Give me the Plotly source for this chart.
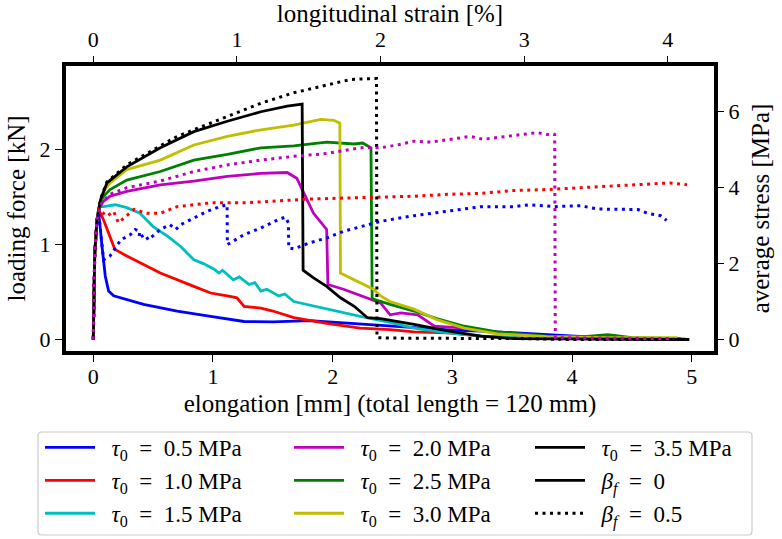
import plotly.graph_objects as go

# ---------------- data (elongation [mm], loading force [kN]) ----------------
x_t05 = [0, 0.012, 0.03, 0.045, 0.073, 0.10, 0.128, 0.17, 0.42, 0.70, 0.98, 1.26, 1.5, 1.675, 1.81, 2.09, 2.4, 2.7, 3.0, 3.3, 3.51, 3.79, 4.1, 4.5, 4.95]
y_t05 = [0, 0.9, 1.25, 1.34, 0.98, 0.67, 0.51, 0.46, 0.37, 0.30, 0.245, 0.19, 0.185, 0.19, 0.20, 0.175, 0.15, 0.12, 0.10, 0.085, 0.07, 0.05, 0.03, 0.015, 0.005]

x_t10 = [0, 0.012, 0.03, 0.045, 0.086, 0.14, 0.18, 0.28, 0.56, 0.84, 0.98, 1.12, 1.2, 1.26, 1.40, 1.5, 1.675, 1.95, 2.23, 2.48, 2.68, 2.96, 3.24, 3.6, 4.0, 4.5, 4.95]
y_t10 = [0, 0.9, 1.25, 1.37, 1.26, 1.09, 0.95, 0.88, 0.70, 0.56, 0.49, 0.46, 0.44, 0.35, 0.33, 0.30, 0.23, 0.17, 0.12, 0.105, 0.08, 0.07, 0.035, 0.015, 0.008, 0.004, 0.0]

x_t15 = [0, 0.012, 0.03, 0.05, 0.086, 0.184, 0.28, 0.39, 0.50, 0.62, 0.73, 0.84, 0.92, 1.01, 1.05, 1.08, 1.17, 1.22, 1.30, 1.35, 1.40, 1.45, 1.55, 1.60, 1.675, 1.95, 2.23, 2.48, 2.68, 2.96, 3.3, 3.6, 4.0, 4.5, 4.95]
y_t15 = [0, 0.9, 1.25, 1.40, 1.40, 1.42, 1.39, 1.33, 1.19, 1.09, 0.98, 0.84, 0.80, 0.74, 0.70, 0.73, 0.63, 0.66, 0.58, 0.60, 0.51, 0.53, 0.46, 0.48, 0.40, 0.32, 0.245, 0.18, 0.12, 0.07, 0.03, 0.015, 0.008, 0.004, 0.0]

x_t20 = [0, 0.012, 0.03, 0.05, 0.08, 0.14, 0.28, 0.56, 0.84, 1.12, 1.40, 1.62, 1.70, 1.76, 1.84, 1.95, 1.96, 2.09, 2.34, 2.40, 2.48, 2.57, 2.71, 2.85, 3.10, 3.4, 3.9, 4.4, 4.9]
y_t20 = [0, 0.9, 1.25, 1.38, 1.45, 1.51, 1.56, 1.63, 1.67, 1.72, 1.75, 1.76, 1.70, 1.54, 1.33, 1.16, 0.58, 0.53, 0.42, 0.386, 0.26, 0.28, 0.26, 0.14, 0.12, 0.07, 0.02, 0.01, 0.0]

x_t25 = [0, 0.012, 0.03, 0.05, 0.08, 0.14, 0.28, 0.56, 0.84, 1.12, 1.40, 1.675, 1.95, 2.18, 2.25, 2.32, 2.33, 2.40, 2.48, 2.68, 2.87, 3.10, 3.375, 3.79, 4.1, 4.30, 4.5, 4.91]
y_t25 = [0, 0.9, 1.25, 1.40, 1.50, 1.58, 1.68, 1.77, 1.89, 1.95, 2.02, 2.04, 2.08, 2.06, 2.07, 2.02, 0.43, 0.40, 0.37, 0.30, 0.22, 0.14, 0.08, 0.035, 0.03, 0.05, 0.02, 0.01]

x_t30 = [0, 0.012, 0.03, 0.05, 0.08, 0.14, 0.28, 0.56, 0.84, 1.12, 1.40, 1.675, 1.90, 2.01, 2.06, 2.065, 2.34, 2.40, 2.48, 2.68, 2.87, 3.10, 3.375, 3.79, 4.3, 4.88]
y_t30 = [0, 0.9, 1.25, 1.42, 1.55, 1.65, 1.79, 1.89, 2.05, 2.14, 2.21, 2.26, 2.32, 2.31, 2.28, 0.70, 0.53, 0.46, 0.40, 0.32, 0.21, 0.12, 0.06, 0.03, 0.02, 0.02]

x_t35 = [0, 0.012, 0.03, 0.05, 0.06, 0.114, 0.28, 0.56, 0.84, 1.12, 1.40, 1.62, 1.745, 1.753, 1.84, 1.95, 2.065, 2.18, 2.29, 2.40, 2.68, 2.96, 3.24, 3.51, 4.0, 4.5, 4.98]
y_t35 = [0, 0.9, 1.25, 1.42, 1.47, 1.65, 1.82, 2.02, 2.19, 2.30, 2.40, 2.46, 2.48, 0.73, 0.65, 0.56, 0.44, 0.35, 0.23, 0.22, 0.16, 0.09, 0.035, 0.01, 0.005, 0.0, 0.0]

# beta_f = 0.5 (dotted)
x_b05_t05 = [0, 0.012, 0.03, 0.045, 0.086, 0.14, 0.23, 0.31, 0.35, 0.39, 0.38, 0.43, 0.46, 0.50, 0.56, 0.64, 0.69, 0.73, 0.84, 0.95, 1.06, 1.118, 1.12, 1.26, 1.40, 1.54, 1.605, 1.63, 1.633, 1.675, 1.81, 1.95, 2.09, 2.23, 2.40, 2.68, 2.96, 3.24, 3.51, 3.65, 3.855, 4.07, 4.21, 4.49, 4.55, 4.63, 4.74, 4.79]
y_b05_t05 = [0, 0.9, 1.25, 1.33, 0.84, 0.88, 1.05, 1.105, 1.16, 1.14, 1.07, 1.105, 1.05, 1.09, 1.16, 1.21, 1.16, 1.21, 1.28, 1.35, 1.40, 1.42, 1.0, 1.105, 1.175, 1.26, 1.29, 1.23, 0.965, 0.955, 1.02, 1.07, 1.14, 1.19, 1.245, 1.305, 1.35, 1.40, 1.40, 1.42, 1.40, 1.41, 1.375, 1.375, 1.37, 1.33, 1.305, 1.255]

x_b05_t10 = [0, 0.012, 0.03, 0.045, 0.114, 0.17, 0.21, 0.28, 0.34, 0.45, 0.56, 0.70, 0.98, 1.26, 1.54, 1.81, 2.09, 2.40, 2.68, 2.96, 3.24, 3.51, 3.79, 4.07, 4.35, 4.63, 4.82, 4.96]
y_b05_t10 = [0, 0.9, 1.25, 1.37, 1.30, 1.35, 1.23, 1.30, 1.37, 1.33, 1.33, 1.40, 1.44, 1.44, 1.46, 1.48, 1.49, 1.50, 1.51, 1.53, 1.54, 1.57, 1.58, 1.60, 1.62, 1.64, 1.65, 1.63]

x_b05_t20 = [0, 0.012, 0.03, 0.05, 0.08, 0.14, 0.28, 0.56, 0.84, 1.12, 1.40, 1.675, 1.95, 2.23, 2.40, 2.54, 2.68, 2.82, 2.96, 3.15, 3.26, 3.51, 3.71, 3.79, 3.835, 3.855, 3.86, 4.2, 4.5, 4.85]
y_b05_t20 = [0, 0.9, 1.25, 1.38, 1.46, 1.53, 1.60, 1.67, 1.77, 1.84, 1.89, 1.93, 1.96, 2.02, 2.02, 2.05, 2.09, 2.08, 2.105, 2.14, 2.11, 2.15, 2.18, 2.16, 2.17, 2.16, 0.02, 0.015, 0.01, 0.01]

x_b05_t35 = [0, 0.012, 0.03, 0.05, 0.06, 0.114, 0.28, 0.56, 0.70, 1.12, 1.40, 1.675, 1.95, 2.15, 2.34, 2.366, 2.37, 2.5, 3.0, 3.57, 4.0, 4.98]
y_b05_t35 = [0, 0.9, 1.25, 1.42, 1.48, 1.66, 1.84, 2.04, 2.14, 2.35, 2.49, 2.60, 2.68, 2.74, 2.75, 2.75, 0.02, 0.015, 0.012, 0.01, 0.0, 0.0]

x_ticks = [0, 1, 2, 3, 4, 5]
y_ticks = [0, 1, 2]
strain_ticks = [0, 1, 2, 3, 4]
stress_ticks = [0, 2, 4, 6]

total_length_mm = 120.0
area_factor = 2.5  # kN -> MPa

# ---------------- figure ----------------
FONT = "Liberation Serif, Times New Roman, serif"
W, H = 782, 539
ML, MR, MT, MB = 66, 68, 66, 188
pw, ph = W - ML - MR, H - MT - MB

xr = [-0.228, 5.186]
yr = [-0.121, 2.882]

fig = go.Figure()

SP = "\u2002"
EQ = "\u2002=\u2002"
solid = [
    (x_t05, y_t05, "#0000ff", SP + "<i>τ</i><sub>0</sub>" + EQ + "0.5 MPa", "legend"),
    (x_t10, y_t10, "#ff0000", SP + "<i>τ</i><sub>0</sub>" + EQ + "1.0 MPa", "legend"),
    (x_t15, y_t15, "#00bfbf", SP + "<i>τ</i><sub>0</sub>" + EQ + "1.5 MPa", "legend"),
    (x_t20, y_t20, "#bf00bf", SP + "<i>τ</i><sub>0</sub>" + EQ + "2.0 MPa", "legend2"),
    (x_t25, y_t25, "#008000", SP + "<i>τ</i><sub>0</sub>" + EQ + "2.5 MPa", "legend2"),
    (x_t30, y_t30, "#bfbf00", SP + "<i>τ</i><sub>0</sub>" + EQ + "3.0 MPa", "legend2"),
    (x_t35, y_t35, "#000000", SP + "<i>τ</i><sub>0</sub>" + EQ + "3.5 MPa", "legend3"),
]
for xs, ys, c, name, lg in solid:
    fig.add_trace(go.Scatter(x=xs, y=ys, mode="lines", name=name, legend=lg,
                             line=dict(color=c, width=2.8)))

dotted = [
    (x_b05_t05, y_b05_t05, "#0000ff"),
    (x_b05_t10, y_b05_t10, "#ff0000"),
    (x_b05_t35, y_b05_t35, "#000000"),
    (x_b05_t20, y_b05_t20, "#bf00bf"),
]
for xs, ys, c in dotted:
    fig.add_trace(go.Scatter(x=xs, y=ys, mode="lines", showlegend=False,
                             line=dict(color=c, width=3, dash="3px,4.5px")))

# style-only legend entries
fig.add_trace(go.Scatter(x=[None], y=[None], mode="lines", name=SP + "<i>β<sub>f</sub></i>" + EQ + "0",
                         legend="legend3", line=dict(color="black", width=2.8)))
fig.add_trace(go.Scatter(x=[None], y=[None], mode="lines", name=SP + "<i>β<sub>f</sub></i>" + EQ + "0.5",
                         legend="legend3", line=dict(color="black", width=3, dash="3px,4.5px")))
# anchor trace for secondary axes
fig.add_trace(go.Scatter(x=[None], y=[None], xaxis="x2", yaxis="y2", showlegend=False,
                         hoverinfo="skip"))

tickfont = dict(family=FONT, size=22, color="black")
titlefont = dict(family=FONT, size=25, color="black")
legfont = dict(family=FONT, size=23, color="black")

fig.update_layout(
    width=W, height=H,
    margin=dict(l=ML, r=MR, t=MT, b=MB, autoexpand=False),
    paper_bgcolor="white", plot_bgcolor="white",
    font=dict(family=FONT, size=22, color="black"),
    xaxis=dict(range=xr, tickmode="array", tickvals=x_ticks, showgrid=False, zeroline=False,
               showline=True, linewidth=4, linecolor="black", mirror=True,
               ticks="outside", ticklen=7, tickwidth=1, tickcolor="black",
               tickfont=tickfont, ticklabelstandoff=-4,
               title=dict(text="elongation [mm] (total length = 120 mm)", font=titlefont, standoff=7)),
    yaxis=dict(range=yr, tickmode="array", tickvals=y_ticks, showgrid=False, zeroline=False,
               showline=True, linewidth=4, linecolor="black", mirror=True,
               ticks="outside", ticklen=7, tickwidth=1, tickcolor="black",
               tickfont=tickfont,
               title=dict(text="loading force [kN]", font=titlefont, standoff=8)),
    xaxis2=dict(overlaying="x", side="top", anchor="y",
                range=[v / total_length_mm * 100 for v in xr],
                tickmode="array", tickvals=strain_ticks, showgrid=False, zeroline=False,
                showline=False, ticks="outside", ticklen=9, tickwidth=1, tickcolor="black",
                tickfont=tickfont,
                title=dict(text="longitudinal strain [%]", font=titlefont, standoff=4)),
    yaxis2=dict(overlaying="y", side="right", anchor="x",
                range=[v * area_factor for v in yr],
                tickmode="array", tickvals=stress_ticks, showgrid=False, zeroline=False,
                showline=False, ticks="outside", ticklen=9, tickwidth=1, tickcolor="black",
                tickfont=tickfont,
                title=dict(text="average stress [MPa]", font=titlefont, standoff=13)),
    showlegend=True,
)

leg_common = dict(orientation="v", yanchor="top", xanchor="left", bgcolor="rgba(0,0,0,0)",
                  borderwidth=0, font=legfont, itemwidth=50, tracegroupgap=0)
y_leg = (MT + ph - 426) / ph
fig.update_layout(
    legend=dict(x=(40 - ML) / pw, y=y_leg, **leg_common),
    legend2=dict(x=(289 - ML) / pw, y=y_leg, **leg_common),
    legend3=dict(x=(530 - ML) / pw, y=y_leg, **leg_common),
)

# legend frame
x0 = (38 - ML) / pw; x1 = (752 - ML) / pw
y0 = (MT + ph - 432) / ph; y1 = (MT + ph - 535) / ph
rx = 4 / pw; ry = 4 / ph
path = (f"M{x0+rx},{y0} L{x1-rx},{y0} Q{x1},{y0} {x1},{y0-ry} L{x1},{y1+ry} "
        f"Q{x1},{y1} {x1-rx},{y1} L{x0+rx},{y1} Q{x0},{y1} {x0},{y1+ry} "
        f"L{x0},{y0-ry} Q{x0},{y0} {x0+rx},{y0} Z")
fig.add_shape(type="path", path=path, xref="paper", yref="paper",
              line=dict(color="#cccccc", width=1.2), fillcolor="rgba(0,0,0,0)", layer="below")

fig.write_html("out.html")
